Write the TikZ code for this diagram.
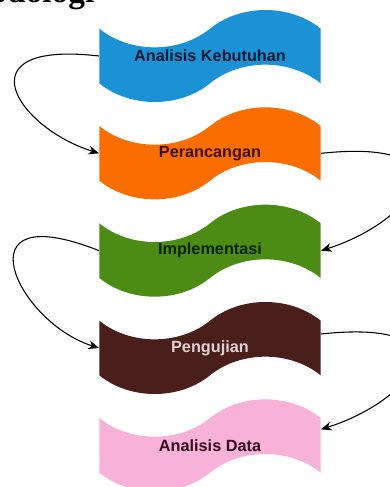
\documentclass[tikz,border=0pt]{standalone}
\usepackage{fontspec}
\setmainfont{Liberation Sans}
\newfontfamily\judulfont{Liberation Serif}
\usepackage{tikz}
\usetikzlibrary{arrows, positioning, shapes.symbols, arrows.meta}

\definecolor{biru}{RGB}{27,146,214}
\definecolor{birutulisan}{RGB}{10,25,50}
\definecolor{oranye}{RGB}{250,110,0}
\definecolor{oranyetulisan}{RGB}{60,15,0}
\definecolor{hijau}{RGB}{77,140,20}
\definecolor{hijautulisan}{RGB}{10,35,0}
\definecolor{cokelat}{RGB}{74,30,26}
\definecolor{cokelattulisan}{RGB}{225,210,210}
\definecolor{merahmuda}{RGB}{248,177,215}
\definecolor{merahmudatulisan}{RGB}{50,15,30}

\tikzset{
  tahap/.style={shape=tape, tape bend top=in and out, tape bend bottom=in and out,
    tape bend height=28pt, minimum width=166pt, minimum height=69pt, inner sep=0pt,
    font=\bfseries\fontsize{12.2}{14}\selectfont}
}

\begin{document}
\begin{tikzpicture}[auto, node distance=73pt, on grid, >={Stealth[length=8pt, width=6.5pt, inset=2.5pt]}, x=0.75pt, y=0.75pt]
    \clip (0,0) rectangle (390,-487);
    \node [anchor=base east, font=\judulfont\bfseries\fontsize{25}{30}\selectfont] (judul) at (99,-2) {odologi};

    \node [tahap, fill=biru, text=birutulisan] (analisis) at (210,-56) {Analisis Kebutuhan};
    \node [tahap, fill=oranye, text=oranyetulisan, below=of analisis] (perancangan) {Perancangan};
    \node [tahap, fill=hijau, text=hijautulisan, below=of perancangan] (implementasi) {Implementasi};
    \node [tahap, fill=cokelat, text=cokelattulisan, below=of implementasi] (pengujian) {Pengujian};
    \node [tahap, fill=merahmuda, text=merahmudatulisan, below=of pengujian] (analisisdata) {Analisis Data};

    \draw[->, line width=0.8pt] (analisis.west) .. controls +(-138,16) and +(-83,26) .. (perancangan.west);
    \draw[->, line width=0.8pt] (perancangan.east) .. controls +(150,16) and +(95,30) .. (implementasi.east);
    \draw[->, line width=0.8pt] (implementasi.west) .. controls +(-141,56) and +(-83,26) .. (pengujian.west);
    \draw[->, line width=0.8pt] ([yshift=10.5pt]pengujian.east) .. controls +(150,16) and +(95,30) .. ([yshift=12pt]analisisdata.east);
\end{tikzpicture}
\end{document}
